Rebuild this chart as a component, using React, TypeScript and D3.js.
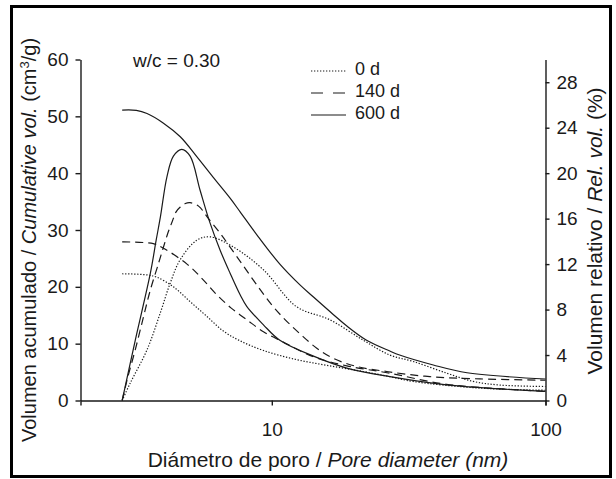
import * as d3 from "d3";
import React, { useEffect, useRef } from "react";

type Pt = [number, number];

// pore diameter (nm) -> cumulative volume (cm3/g), left axis
const cum0d: Pt[] = [
  [2.84, 22.3], [3.5, 22.1], [3.8, 21.7], [4.37, 20.0], [5.03, 17.4], [5.79, 14.8],
  [6.66, 12.2], [7.66, 10.5], [9.32, 8.8], [12.3, 7.2], [16.3, 6.1], [21.6, 5.1],
  [27, 4.2], [32.9, 3.34], [57.6, 2.18], [100, 1.8],
];
const cum140d: Pt[] = [
  [2.84, 27.9], [3.69, 27.6], [4.02, 26.8], [4.9, 24.0], [5.55, 21.5], [6.21, 18.9],
  [7.09, 16.3], [8.11, 14.2], [9.32, 12.1], [10.9, 10.4], [14.2, 7.7], [18.8, 6.1],
  [27, 4.8], [43.5, 2.85], [100, 1.6],
];
const cum600d: Pt[] = [
  [2.84, 51.1], [3.2, 51.05], [3.5, 50.5], [4.02, 48.8], [4.63, 46.4], [5.32, 42.9],
  [6.1, 39.3], [7.04, 35.6], [7.66, 33.2], [8.93, 28.8], [10.7, 24.0], [12.7, 20.3],
  [14.2, 18.2], [16.8, 15.1], [18.8, 13.1], [22.2, 10.6], [27, 8.7], [29.3, 8.0],
  [38.9, 6.25], [51.7, 4.88], [100, 3.78],
];

// pore diameter (nm) -> relative volume (%), right axis
const rel0d: Pt[] = [
  [2.84, 0], [3.04, 1.54], [3.5, 4.46], [3.91, 7.68], [4.25, 10.3], [4.63, 12.4],
  [5.32, 14.1], [5.95, 14.4], [7.24, 13.5], [9.32, 11.5], [12.3, 8.26], [16.3, 7.1],
  [21.6, 5.3], [27, 4.0], [32.9, 3.43], [43.5, 2.41], [54.4, 1.68], [68.1, 1.36],
  [100, 1.23],
];
const rel140d: Pt[] = [
  [2.84, 0], [2.96, 1.82], [3.17, 4.46], [3.4, 7.39], [3.6, 9.73], [3.86, 12.1],
  [4.02, 13.5], [4.16, 14.65], [4.32, 15.7], [4.47, 16.6], [4.63, 17.02], [4.83, 17.33],
  [5.03, 17.4], [5.4, 17.1], [5.87, 16.0], [6.48, 14.7], [7.04, 13.5], [7.88, 11.83],
  [8.82, 10.16], [10, 8.4], [11.2, 7.1], [12.7, 5.85], [14.6, 4.6], [16.8, 3.7],
  [20.4, 3.0], [26.3, 2.55], [37.8, 2.1], [57.6, 1.9], [100, 1.78],
];
const rel600d: Pt[] = [
  [2.84, 0], [3.17, 5.3], [3.6, 11.2], [3.78, 14.1], [3.92, 16.2], [4.14, 19.7],
  [4.37, 21.5], [4.69, 22.1], [5.03, 21.5], [5.47, 18.5], [5.95, 15.6], [6.48, 13.2],
  [7.04, 11.2], [7.66, 9.3], [8.11, 8.26], [9.32, 6.66], [10.7, 5.3], [14.2, 3.9],
  [18.8, 2.85], [27, 2.1], [43.5, 1.38], [100, 0.8],
];

const leftTicks = [0, 10, 20, 30, 40, 50, 60];
const rightTicks = [0, 4, 8, 12, 16, 20, 24, 28];
const xTicks = [10, 100];
const legendLabels = ["0 d", "140 d", "600 d"];
const dashes = ["1.3 1.7", "8 5", "none"];

const W = 616;
const H = 479;
const FONT = '"Liberation Sans", Arial, Helvetica, sans-serif';
const INK = "#1a1a1a";

export default function App() {
  const svgRef = useRef<SVGSVGElement>(null);

  useEffect(() => {
    const svg = d3.select(svgRef.current);
    svg.selectAll("*").remove();

    const x = d3.scaleLog().domain([2, 100]).range([80.5, 545.5]);
    const yL = d3.scaleLinear().domain([0, 60]).range([400.5, 59.5]);
    const yR = d3.scaleLinear().domain([0, 30]).range([400.5, 59.5]);

    svg.append("rect").attr("width", W).attr("height", H).attr("fill", "#fff");
    svg
      .append("rect")
      .attr("x", 11.5)
      .attr("y", 6.5)
      .attr("width", 599)
      .attr("height", 470)
      .attr("fill", "none")
      .attr("stroke", "#000")
      .attr("stroke-width", 3);

    const styleAxis = (g: d3.Selection<SVGGElement, unknown, null, undefined>) => {
      g.attr("font-family", FONT).attr("font-size", 19);
      g.selectAll("path, line").attr("stroke", INK).attr("stroke-width", 1.4);
      g.selectAll("text").attr("fill", INK);
    };

    svg
      .append("g")
      .attr("transform", "translate(80.5,0)")
      .call(d3.axisLeft(yL).tickValues(leftTicks).tickSize(5).tickSizeOuter(0).tickPadding(7))
      .call(styleAxis);

    svg
      .append("g")
      .attr("transform", "translate(545.5,0)")
      .call(d3.axisRight(yR).tickValues(rightTicks).tickSize(4).tickSizeOuter(0).tickPadding(7))
      .call(styleAxis);

    svg
      .append("g")
      .attr("transform", "translate(0,400.5)")
      .call(
        d3
          .axisBottom(x)
          .tickValues(xTicks)
          .tickFormat(d3.format("d") as any)
          .tickSize(5)
          .tickSizeOuter(5)
          .tickPadding(17)
      )
      .call(styleAxis);

    const curve = d3.curveCatmullRom.alpha(0.5);
    const lineL = d3
      .line<Pt>()
      .x((d) => x(d[0]))
      .y((d) => yL(d[1]))
      .curve(curve);
    const lineR = d3
      .line<Pt>()
      .x((d) => x(d[0]))
      .y((d) => yR(d[1]))
      .curve(curve);

    const series = [
      { d: lineL(cum0d), i: 0 },
      { d: lineL(cum140d), i: 1 },
      { d: lineL(cum600d), i: 2 },
      { d: lineR(rel0d), i: 0 },
      { d: lineR(rel140d), i: 1 },
      { d: lineR(rel600d), i: 2 },
    ];
    svg
      .append("g")
      .selectAll("path")
      .data(series)
      .join("path")
      .attr("d", (s) => s.d)
      .attr("fill", "none")
      .attr("stroke", INK)
      .attr("stroke-width", 1.2)
      .attr("stroke-dasharray", (s) => dashes[s.i]);

    // legend
    const lg = svg.append("g").attr("font-family", FONT).attr("font-size", 18).attr("fill", INK);
    legendLabels.forEach((lab, i) => {
      const by = 75 + i * 22;
      lg.append("line")
        .attr("x1", 311)
        .attr("x2", 346)
        .attr("y1", by - 4)
        .attr("y2", by - 4)
        .attr("stroke", INK)
        .attr("stroke-width", 1.2)
        .attr("stroke-dasharray", i === 1 ? "12 10" : dashes[i]);
      lg.append("text").attr("x", 355).attr("y", by).text(lab);
    });

    svg
      .append("text")
      .attr("x", 133)
      .attr("y", 67)
      .attr("font-family", FONT)
      .attr("font-size", 19)
      .attr("fill", INK)
      .text("w/c = 0.30");

    // axis titles
    const xt = svg
      .append("text")
      .attr("x", 328)
      .attr("y", 467)
      .attr("text-anchor", "middle")
      .attr("font-family", FONT)
      .attr("font-size", 21)
      .attr("fill", INK);
    xt.append("tspan").text("Diámetro de poro / ");
    xt.append("tspan").attr("font-style", "italic").text("Pore diameter (nm)");

    const yt = svg
      .append("text")
      .attr("transform", "translate(36,240) rotate(-90)")
      .attr("text-anchor", "middle")
      .attr("font-family", FONT)
      .attr("font-size", 20)
      .attr("fill", INK);
    yt.append("tspan").text("Volumen acumulado / ");
    yt.append("tspan").attr("font-style", "italic").text("Cumulative vol.");
    yt.append("tspan").text(" (cm");
    yt.append("tspan").attr("font-size", 13).attr("dy", -7).text("3");
    yt.append("tspan").attr("dy", 7).text("/g)");

    const rt = svg
      .append("text")
      .attr("transform", "translate(602,231) rotate(-90)")
      .attr("text-anchor", "middle")
      .attr("font-family", FONT)
      .attr("font-size", 21)
      .attr("fill", INK);
    rt.append("tspan").text("Volumen relativo / ");
    rt.append("tspan").attr("font-style", "italic").text("Rel. vol.");
    rt.append("tspan").text(" (%)");
  }, []);

  return (
    <div style={{ position: "absolute", left: 0, top: 0 }}>
      <svg ref={svgRef} width={W} height={H} />
    </div>
  );
}
